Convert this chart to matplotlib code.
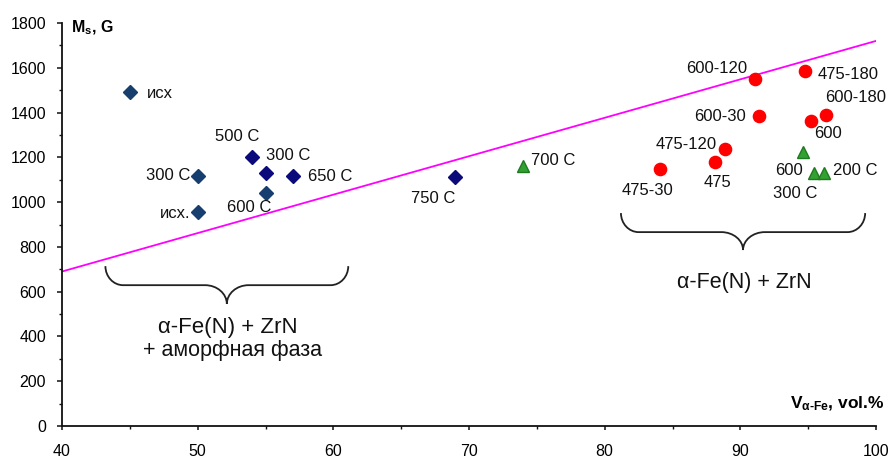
import matplotlib
matplotlib.use("Agg")
import matplotlib.pyplot as plt
from matplotlib.path import Path
from matplotlib.patches import PathPatch
from matplotlib.ticker import MultipleLocator

plt.rcParams['font.family'] = ['Liberation Sans', 'DejaVu Sans']
plt.rcParams['mathtext.fontset'] = 'custom'
plt.rcParams['mathtext.rm'] = 'Liberation Sans'
plt.rcParams['mathtext.bf'] = 'Liberation Sans:bold'
plt.rcParams['mathtext.it'] = 'Liberation Sans:italic'

# ---- data ----
blue1_x = [45, 50, 50, 55]
blue1_y = [1490, 1115, 955, 1040]
blue1_labels = ["исх", "300 C", "исх.", "600 C"]

blue2_x = [54, 55, 57, 69]
blue2_y = [1200, 1130, 1115, 1113]
blue2_labels = ["500 C", "300 C", "650 C", "750 C"]

green_x = [74, 94.6, 95.4, 96.2]
green_y = [1160, 1225, 1131, 1131]
green_labels = ["700 C", "600", "300 C", "200 C"]

red_x = [91.1, 94.8, 91.4, 96.3, 95.2, 88.9, 88.1, 84.1]
red_y = [1552, 1586, 1384, 1391, 1363, 1235, 1177, 1146]
red_labels = ["600-120", "475-180", "600-30", "600-180", "600", "475-120", "475", "475-30"]

line_x = [40, 100]
line_y = [690, 1720]

x_ticks = [40, 50, 60, 70, 80, 90, 100]
y_ticks = [0, 200, 400, 600, 800, 1000, 1200, 1400, 1600, 1800]

# label offsets (pixels) relative to each point
blue1_off = [(30, -1), (-29, 1), (-23, -1), (-16, -14)]
blue2_off = [(-15, 21), (23, 18), (38, 0), (-22, -22)]
green_off = [(30, 6), (-14, -19), (-18, -21), (31, 2)]
red_off = [(-39, 10), (43, -4), (-39, 0), (30, 17), (17, -13), (-39, 5), (3, -20), (-13, -21)]

fig = plt.figure(figsize=(8.92, 4.59), dpi=100)
ax = fig.add_axes([62/892, (459-426)/459, 814/892, 403/459])
ax.set_xlim(40, 100)
ax.set_ylim(0, 1800)

ax.plot(line_x, line_y, color='#FF00FF', lw=1.3, zorder=2)

ax.plot(blue1_x, blue1_y, 'D', color='#163E6E', ms=6.8, ls='none', zorder=3)
ax.plot(blue2_x, blue2_y, 'D', color='#0A0A7A', ms=6.8, ls='none', zorder=3)
ax.plot(green_x, green_y, '^', color='#33A033', mec='#1E7A1E', ms=8.5, ls='none', zorder=3)
ax.plot(red_x, red_y, 'o', color='#FF0000', mec='#FF0000', ms=8.8, ls='none', zorder=3)

fs = 12
for xs, ys, labs, offs in [(blue1_x, blue1_y, blue1_labels, blue1_off),
                           (blue2_x, blue2_y, blue2_labels, blue2_off),
                           (green_x, green_y, green_labels, green_off),
                           (red_x, red_y, red_labels, red_off)]:
    for x, y, t, (dx, dy) in zip(xs, ys, labs, offs):
        ax.annotate(t, (x, y), xytext=(dx, dy), textcoords='offset pixels',
                    ha='center', va='center', fontsize=fs, color='#111111')

# braces
def brace(x0, x1, ytop, yline, ytip, r_end, r_mid):
    xm = (x0 + x1) / 2
    k = 0.55
    verts = [
        (x0, ytop),
        (x0, ytop - k * (ytop - yline)), (x0 + r_end * (1 - k), yline), (x0 + r_end, yline),
        (xm - r_mid, yline),
        (xm - r_mid * (1 - k), yline), (xm, ytip + k * (yline - ytip)), (xm, ytip),
        (xm, ytip + k * (yline - ytip)), (xm + r_mid * (1 - k), yline), (xm + r_mid, yline),
        (x1 - r_end, yline),
        (x1 - r_end * (1 - k), yline), (x1, ytop - k * (ytop - yline)), (x1, ytop),
    ]
    codes = [Path.MOVETO,
             Path.CURVE4, Path.CURVE4, Path.CURVE4,
             Path.LINETO,
             Path.CURVE4, Path.CURVE4, Path.CURVE4,
             Path.CURVE4, Path.CURVE4, Path.CURVE4,
             Path.LINETO,
             Path.CURVE4, Path.CURVE4, Path.CURVE4]
    ax.add_patch(PathPatch(Path(verts, codes), fill=False, lw=1.3, ec='#222222', zorder=2))

brace(43.2, 61.1, 714, 629, 545, 1.3, 1.6)
brace(81.2, 99.2, 951, 866, 786, 1.3, 1.6)

ax.text(52.2, 440, "α-Fe(N) + ZrN", ha='center', va='center', fontsize=16, color='#111111')
ax.text(52.6, 335, "+ аморфная фаза", ha='center', va='center', fontsize=15.5, color='#111111')
ax.text(90.3, 640, "α-Fe(N) + ZrN", ha='center', va='center', fontsize=15.5, color='#111111')

# axes styling
for s in ['top', 'right']:
    ax.spines[s].set_visible(False)
for s in ['left', 'bottom']:
    ax.spines[s].set_linewidth(1.3)
    ax.spines[s].set_color('#111111')

ax.set_xticks(x_ticks)
ax.set_yticks(y_ticks)
ax.xaxis.set_minor_locator(MultipleLocator(5))
ax.yaxis.set_minor_locator(MultipleLocator(100))
ax.tick_params(axis='both', which='major', labelsize=11.5, width=1.1, color='#111111')
ax.tick_params(axis='y', which='major', length=3.5, pad=8)
ax.tick_params(axis='x', which='major', length=3, pad=10)
ax.tick_params(axis='both', which='minor', length=2.5, width=1.0, color='#111111')

ax.text(0.011, 0.988, r"$\mathbf{M_s}$, G", transform=ax.transAxes, ha='left', va='center',
        fontsize=11.5, fontweight='bold')
ax.text(1.011, 0.055, r"$\mathbf{V_{α‐Fe}}$, vol.%", transform=ax.transAxes, ha='right', va='center',
        fontsize=12.5, fontweight='bold', clip_on=False)

fig.savefig("out.png", dpi=100)
